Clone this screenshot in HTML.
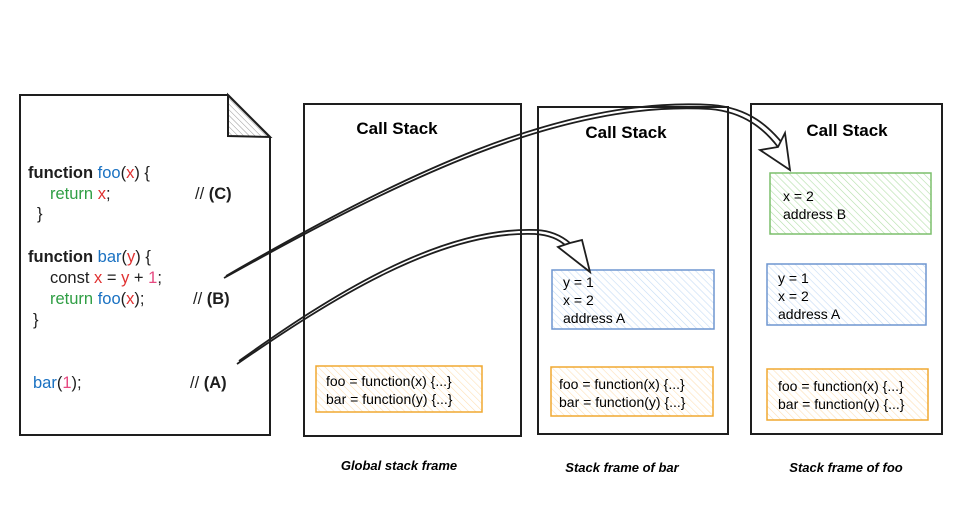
<!DOCTYPE html>
<html><head><meta charset="utf-8"><style>
html,body{margin:0;padding:0;background:#fff}
svg text{font-family:"Comic Sans MS","Liberation Sans",sans-serif}
</style></head><body>
<svg width="971" height="507" viewBox="0 0 971 507" xmlns="http://www.w3.org/2000/svg">
<defs>
<pattern id="hg" width="5" height="5" patternUnits="userSpaceOnUse" patternTransform="rotate(-45)"><line x1="0" y1="0" x2="0" y2="5" stroke="#b2dfa8" stroke-width="1.2"/></pattern>
<pattern id="hb" width="5" height="5" patternUnits="userSpaceOnUse" patternTransform="rotate(-45)"><line x1="0" y1="0" x2="0" y2="5" stroke="#c5dcf5" stroke-width="1.2"/></pattern>
<pattern id="ho" width="5" height="5" patternUnits="userSpaceOnUse" patternTransform="rotate(-45)"><line x1="0" y1="0" x2="0" y2="5" stroke="#fde0b5" stroke-width="1.2"/></pattern>
<pattern id="hk" width="4" height="4" patternUnits="userSpaceOnUse" patternTransform="rotate(-45)"><line x1="0" y1="0" x2="0" y2="4" stroke="#999" stroke-width="1"/></pattern>
</defs>
<g>
<path d="M20,95 L228,95 L270,137 L270,435 L20,435 Z" fill="#fff" stroke="#1e1e1e" stroke-width="2"/>
<path d="M228,95 L228,136 L270,137 Z" fill="url(#hk)" stroke="#1e1e1e" stroke-width="2"/>
<g font-size="16.5" font-weight="bold" fill="#1e1e1e">
<text x="28" y="178">function <tspan fill="#1971c2" font-weight="normal">foo</tspan><tspan font-weight="normal">(</tspan><tspan fill="#e03131" font-weight="normal">x</tspan><tspan font-weight="normal">) {</tspan></text>
<text x="50" y="199" font-weight="normal"><tspan fill="#2f9e44">return </tspan><tspan fill="#e03131">x</tspan>;</text>
<text x="195" y="199" font-weight="normal">// <tspan font-weight="bold">(C)</tspan></text>
<text x="37" y="219" font-weight="normal">}</text>
<text x="28" y="262">function <tspan fill="#1971c2" font-weight="normal">bar</tspan><tspan font-weight="normal">(</tspan><tspan fill="#e03131" font-weight="normal">y</tspan><tspan font-weight="normal">) {</tspan></text>
<text x="50" y="283" font-weight="normal">const <tspan fill="#e03131">x</tspan> = <tspan fill="#e03131">y</tspan> + <tspan fill="#e64980">1</tspan>;</text>
<text x="50" y="304" font-weight="normal"><tspan fill="#2f9e44">return </tspan><tspan fill="#1971c2">foo</tspan>(<tspan fill="#e03131">x</tspan>);</text>
<text x="193" y="304" font-weight="normal">// <tspan font-weight="bold">(B)</tspan></text>
<text x="33" y="325" font-weight="normal">}</text>
<text x="33" y="388" font-weight="normal"><tspan fill="#1971c2">bar</tspan>(<tspan fill="#e64980">1</tspan>);</text>
<text x="190" y="388" font-weight="normal">// <tspan font-weight="bold">(A)</tspan></text>
</g></g>
<g>
<rect x="304" y="104" width="217" height="332" fill="none" stroke="#1e1e1e" stroke-width="2"/>
<text x="397" y="134" font-size="17" font-weight="bold" text-anchor="middle">Call Stack</text>
<rect x="316" y="366" width="166" height="46" fill="url(#ho)" stroke="#f0a830" stroke-width="1.5"/>
<text x="326" y="386" font-size="14">foo = function(x) {...}</text>
<text x="326" y="404" font-size="14">bar = function(y) {...}</text>
<text x="399" y="470" font-size="13" font-weight="bold" font-style="italic" text-anchor="middle">Global stack frame</text>
</g>
<g>
<rect x="538" y="107" width="190" height="327" fill="none" stroke="#1e1e1e" stroke-width="2"/>
<text x="626" y="138" font-size="17" font-weight="bold" text-anchor="middle">Call Stack</text>
<rect x="552" y="270" width="162" height="59" fill="url(#hb)" stroke="#6e96d0" stroke-width="1.5"/>
<text x="563" y="287" font-size="14">y = 1</text>
<text x="563" y="305" font-size="14">x = 2</text>
<text x="563" y="323" font-size="14">address A</text>
<rect x="551" y="367" width="162" height="49" fill="url(#ho)" stroke="#f0a830" stroke-width="1.5"/>
<text x="559" y="389" font-size="14">foo = function(x) {...}</text>
<text x="559" y="407" font-size="14">bar = function(y) {...}</text>
<text x="622" y="472" font-size="13" font-weight="bold" font-style="italic" text-anchor="middle">Stack frame of bar</text>
</g>
<g>
<rect x="751" y="104" width="191" height="330" fill="none" stroke="#1e1e1e" stroke-width="2"/>
<text x="847" y="136" font-size="17" font-weight="bold" text-anchor="middle">Call Stack</text>
<rect x="770" y="173" width="161" height="61" fill="url(#hg)" stroke="#7cbf6c" stroke-width="1.5"/>
<text x="783" y="201" font-size="14">x = 2</text>
<text x="783" y="219" font-size="14">address B</text>
<rect x="767" y="264" width="159" height="61" fill="url(#hb)" stroke="#6e96d0" stroke-width="1.5"/>
<text x="778" y="283" font-size="14">y = 1</text>
<text x="778" y="301" font-size="14">x = 2</text>
<text x="778" y="319" font-size="14">address A</text>
<rect x="767" y="369" width="161" height="51" fill="url(#ho)" stroke="#f0a830" stroke-width="1.5"/>
<text x="778" y="391" font-size="14">foo = function(x) {...}</text>
<text x="778" y="409" font-size="14">bar = function(y) {...}</text>
<text x="846" y="472" font-size="13" font-weight="bold" font-style="italic" text-anchor="middle">Stack frame of foo</text>
</g>
<g fill="none" stroke="#1e1e1e" stroke-width="1.8">
<path d="M224,278 C400,180 560,100 710,109 C745,112 765,130 778,147"/>
<path d="M226,276 C400,176 560,96 712,105 C750,108 770,128 783,144"/>
<path d="M760,150 L790,170 L785,133 L778,147 Z" fill="#fff"/>
<path d="M237,364 C330,300 440,230 535,234 C550,235 560,240 566,246"/>
<path d="M239,361 C330,296 440,226 537,230 C553,231 563,237 570,243"/>
<path d="M558,247 L590,272 L582,240 L570,243 Z" fill="#fff"/>
</g>
</svg>
</body></html>
